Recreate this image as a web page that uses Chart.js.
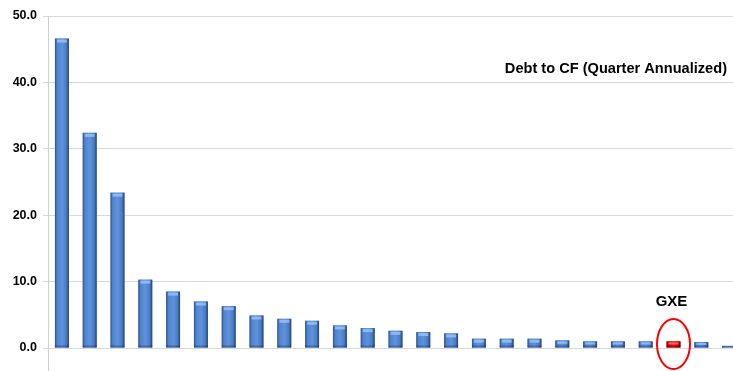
<!DOCTYPE html>
<html>
<head>
<meta charset="utf-8">
<script src="https://cdn.jsdelivr.net/npm/chart.js@4/dist/chart.umd.min.js"></script>
<style>
html,body{margin:0;padding:0;background:#fff;overflow:hidden;width:733px;height:371px;}
#wrap{width:743px;height:371px;}
</style>
</head>
<body>
<div id="wrap"><canvas id="c" width="743" height="371"></canvas></div>
<script>
const categories = ["C1","C2","C3","C4","C5","C6","C7","C8","C9","C10","C11","C12","C13","C14","C15","C16","C17","C18","C19","C20","C21","C22","GXE","C24","C25"];
const debtToCF = [46.6, 32.4, 23.4, 10.3, 8.5, 7.0, 6.3, 4.9, 4.4, 4.1, 3.4, 3.0, 2.6, 2.4, 2.2, 1.4, 1.4, 1.4, 1.15, 1.0, 1.0, 1.0, 1.0, 0.9, 0.3];
const yTicks = [0, 10, 20, 30, 40, 50];
const highlight = "GXE";
const titleText = "Debt to CF (Quarter Annualized)";

const barColors = categories.map(c => c === highlight ? "#e01010" : "#5a8fd9");

const bevelPlugin = {
  id: "bevel",
  afterDatasetsDraw(chart) {
    const ctx = chart.ctx;
    const meta = chart.getDatasetMeta(0);
    meta.data.forEach((bar, i) => {
      const p = bar.getProps(["x", "y", "base", "width"], true);
      const l = p.x - p.width / 2, r = p.x + p.width / 2;
      const top = Math.min(p.y, p.base), bot = Math.max(p.y, p.base);
      const red = categories[i] === highlight;
      const g = ctx.createLinearGradient(l, 0, r, 0);
      if (red) {
        g.addColorStop(0, "#8a0000"); g.addColorStop(0.15, "#d00000");
        g.addColorStop(0.5, "#f01818"); g.addColorStop(0.85, "#c00000"); g.addColorStop(1, "#700000");
      } else {
        g.addColorStop(0, "#2f4f86"); g.addColorStop(0.15, "#4f82cc");
        g.addColorStop(0.5, "#5d93de"); g.addColorStop(0.82, "#4a7cc4"); g.addColorStop(1, "#263f6b");
      }
      ctx.save();
      ctx.fillStyle = g;
      ctx.fillRect(l, top, p.width, bot - top);
      const h = Math.min(3, (bot - top) / 3);
      ctx.fillStyle = red ? "rgba(255,140,140,0.7)" : "rgba(160,200,250,0.75)";
      ctx.fillRect(l + 2, top + 1, p.width - 4, h);
      ctx.fillStyle = "rgba(0,0,40,0.25)";
      ctx.fillRect(l, bot - 2, p.width, 2);
      ctx.restore();
    });
    const idx = categories.indexOf(highlight);
    const hb = meta.data[idx];
    const ys = chart.scales.y;
    ctx.save();
    ctx.fillStyle = "#000";
    ctx.font = "bold 15px 'Liberation Sans', Arial, sans-serif";
    ctx.textAlign = "center";
    ctx.textBaseline = "alphabetic";
    ctx.fillText(highlight, hb.x - 2, 306);
    ctx.strokeStyle = "#ff0000";
    ctx.lineWidth = 2;
    ctx.beginPath();
    ctx.ellipse(hb.x, ys.getPixelForValue(0) - 4, 16.5, 25, 0, 0, Math.PI * 2);
    ctx.stroke();
    ctx.font = "bold 14.6px 'Liberation Sans', Arial, sans-serif";
    ctx.textAlign = "right";
    ctx.fillText(titleText, 727, 73);
    ctx.restore();
  }
};

new Chart(document.getElementById("c"), {
  type: "bar",
  data: {
    labels: categories,
    datasets: [{
      data: debtToCF,
      backgroundColor: barColors,
      borderWidth: 0,
      barPercentage: 0.5,
      categoryPercentage: 1.0
    }]
  },
  options: {
    responsive: false,
    animation: false,
    layout: { padding: { top: 16, right: 0, bottom: 0, left: 0 } },
    plugins: { legend: { display: false }, tooltip: { enabled: false }, title: { display: false } },
    scales: {
      x: {
        display: false,
        offset: true,
        grid: { display: false }
      },
      y: {
        min: -3.46,
        max: 50,
        afterBuildTicks(axis) { axis.ticks = yTicks.map(v => ({ value: v })); },
        afterFit(axis) { axis.width = 48; axis.paddingTop = 0; axis.paddingBottom = 0; },
        border: { display: true, color: "#cfcfcf", width: 1 },
        grid: { color: "#d9d9d9", lineWidth: 1, tickLength: 5, drawTicks: true },
        ticks: {
          padding: 6,
          color: "#000",
          font: { family: "'Liberation Sans', Arial, sans-serif", size: 12.5, weight: "bold" },
          callback: v => Number(v).toFixed(1)
        }
      }
    }
  },
  plugins: [bevelPlugin]
});
</script>
</body>
</html>
